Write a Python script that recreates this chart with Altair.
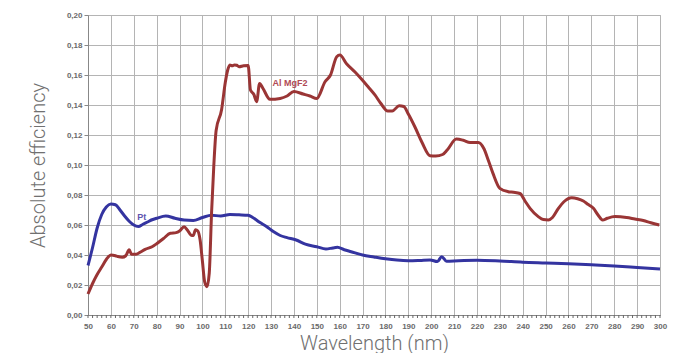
import altair as alt
import pandas as pd

pt_nm = [50, 52, 54, 56, 58, 60, 62, 64, 66, 68, 70, 72, 74, 76, 78, 80, 84, 88, 92, 96,
         100, 104, 108, 112, 116, 120, 122, 125, 128, 131, 134, 137, 141, 145, 150, 154,
         157, 159, 162, 165, 170, 175, 180, 185, 190, 195, 199.5, 202.7, 204.6, 206.7,
         212, 220, 230, 240, 250, 260, 270, 280, 290, 300]
pt_val = [0.033, 0.045, 0.058, 0.067, 0.072, 0.074, 0.0735, 0.070, 0.066, 0.0625, 0.060,
          0.059, 0.0605, 0.062, 0.0635, 0.0645, 0.066, 0.0645, 0.0633, 0.063, 0.065, 0.0665,
          0.066, 0.067, 0.0668, 0.0665, 0.065, 0.0618, 0.059, 0.0556, 0.053, 0.0516, 0.050,
          0.0472, 0.0455, 0.044, 0.0447, 0.0451, 0.0435, 0.0422, 0.040, 0.0387, 0.0375,
          0.0366, 0.0362, 0.0364, 0.0367, 0.0356, 0.0389, 0.0358, 0.0362, 0.0365, 0.036,
          0.0352, 0.0347, 0.0342, 0.0335, 0.0327, 0.0317, 0.0307]

al_nm = [50, 52, 54, 56, 58, 60, 62, 63, 65, 66.5, 68, 69, 71, 73, 75, 78, 80, 83, 86, 88.5,
         90, 92, 93.5, 95, 96, 97, 98, 99, 100, 101, 102, 103, 104, 105, 106, 108.4, 110,
         111, 112, 113, 114, 115, 116, 118, 120, 121, 122.5, 123.7, 125, 126.5, 129.5, 134,
         137, 140, 144, 147, 150, 153.6, 156, 158.7, 160.1, 163, 166.7, 169.7, 172.5, 175.4,
         178, 181, 183, 186, 188, 190, 193, 196, 199.5, 202, 205, 207, 211, 214, 217, 220.6,
         223, 225, 227, 230, 233.7, 236, 238.8, 241, 243.2, 246.8, 249, 251.2, 253, 255.6,
         258, 261.4, 264, 266.5, 268.5, 270.9, 273, 274.9, 277, 280.3, 285.4, 289, 292.7,
         296, 299.7]
al_val = [0.014, 0.021, 0.027, 0.032, 0.037, 0.040, 0.0395, 0.039, 0.0385, 0.0395, 0.0435,
          0.0405, 0.0405, 0.042, 0.0438, 0.0455, 0.0475, 0.051, 0.0545, 0.0549, 0.056, 0.0589,
          0.0565, 0.0533, 0.053, 0.0568, 0.056, 0.050, 0.036, 0.022, 0.0189, 0.028, 0.068,
          0.100, 0.123, 0.137, 0.155, 0.163, 0.1667, 0.1662, 0.1667, 0.1665, 0.1655, 0.1662,
          0.1664, 0.150, 0.147, 0.1422, 0.1544, 0.151, 0.1438, 0.1444, 0.146, 0.149, 0.1473,
          0.146, 0.1444, 0.1555, 0.160, 0.1722, 0.1733, 0.1675, 0.162, 0.157, 0.152, 0.1467,
          0.141, 0.136, 0.136, 0.1395, 0.139, 0.134, 0.125, 0.115, 0.1062, 0.1060, 0.107,
          0.110, 0.1173, 0.1165, 0.115, 0.115, 0.111, 0.103, 0.0944, 0.0844, 0.0822, 0.0818,
          0.081, 0.076, 0.0711, 0.0656, 0.0636, 0.0633, 0.065, 0.0711, 0.0755, 0.0782, 0.0775,
          0.076, 0.0738, 0.0711, 0.0665, 0.0633, 0.0645, 0.0656, 0.065, 0.064, 0.063, 0.0615,
          0.060]

series_names = ["Pt", "Al MgF2"]
series_colors = ["#3434a0", "#9a3535"]
label_colors = ["#5f56b0", "#b04a55"]
label_nm = [73.5, 138.3]
label_val = [0.0652, 0.1547]

x_ticks = list(range(50, 301, 10))
x_minor = list(range(50, 301, 2))
y_ticks = [0.0, 0.02, 0.04, 0.06, 0.08, 0.10, 0.12, 0.14, 0.16, 0.18, 0.20]

df = pd.concat([
    pd.DataFrame({"nm": pt_nm, "eff": pt_val, "series": "Pt"}),
    pd.DataFrame({"nm": al_nm, "eff": al_val, "series": "Al MgF2"}),
])
labels = pd.DataFrame({"nm": label_nm, "eff": label_val, "series": series_names})
minor = pd.DataFrame({"nm": x_minor})

xscale = alt.Scale(domain=[50, 300], nice=False, zero=False)
yscale = alt.Scale(domain=[0, 0.2], nice=False)
cscale = alt.Scale(domain=series_names, range=series_colors)
lscale = alt.Scale(domain=series_names, range=label_colors)

xaxis = alt.Axis(
    values=x_ticks, title="Wavelength (nm)", grid=True, ticks=False,
    labelOverlap=False, labelPadding=7, labelFlush=False,
    titleY=34, titleBaseline="alphabetic")
yaxis = alt.Axis(
    values=y_ticks, title="Absolute efficiency", grid=True, tickSize=4,
    labelOverlap=False, labelFlush=False,
    labelExpr="replace(format(datum.value, '.2f'), '.', ',')",
    titleX=-44, titleY=150, titleBaseline="alphabetic", titleAngle=-90)

lines = alt.Chart(df).mark_line(strokeWidth=3, interpolate="monotone").encode(
    x=alt.X("nm:Q", scale=xscale, axis=xaxis),
    y=alt.Y("eff:Q", scale=yscale, axis=yaxis),
    color=alt.Color("series:N", scale=cscale, legend=None),
    detail="series:N",
)

minor_ticks = alt.Chart(minor).mark_rule(color="#666", strokeWidth=1).encode(
    x=alt.X("nm:Q", scale=xscale, axis=xaxis),
    y=alt.value(300),
    y2=alt.value(303),
)

text = alt.Chart(labels).mark_text(fontSize=9, fontWeight="bold", font="Liberation Sans",
                                   baseline="middle").encode(
    x=alt.X("nm:Q", scale=xscale, axis=xaxis),
    y=alt.Y("eff:Q", scale=yscale, axis=yaxis),
    text="series:N",
    color=alt.Color("series:N", scale=lscale, legend=None),
)

chart = alt.layer(lines, minor_ticks, text).resolve_scale(color="independent").properties(
    width=572, height=300,
    autosize=alt.AutoSizeParams(type="none"),
    padding={"left": 80, "top": 7, "right": 20, "bottom": 38},
).configure_view(stroke="#aaaaaa", strokeWidth=1).configure_axis(
    gridColor="#b4b4b4", gridWidth=1,
    domainColor="#888888", tickColor="#888888",
    labelFont="Liberation Sans", labelFontSize=8, labelFontWeight="bold",
    labelColor="#6a6a6a",
    titleFont="Roboto", titleFontSize=20, titleFontWeight=300, titleColor="#707070",
)

chart.save("out.html", embed_options={"renderer": "svg", "actions": False})
